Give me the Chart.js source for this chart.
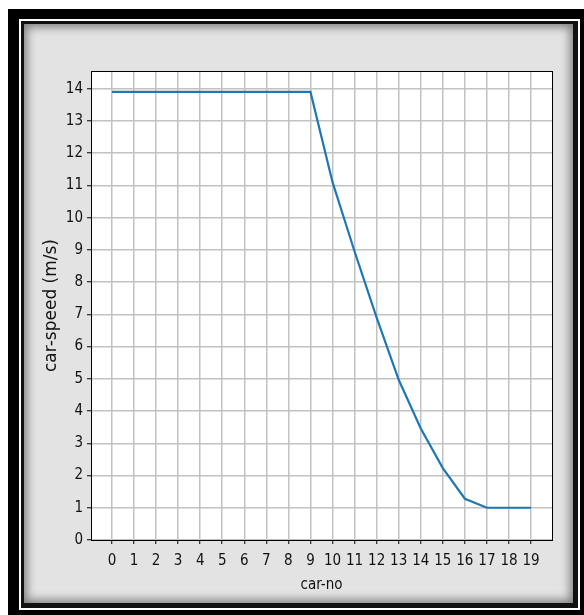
<!DOCTYPE html>
<html>
<head>
<meta charset="utf-8">
<script src="https://cdn.jsdelivr.net/npm/chart.js@4"></script>
<style>
  html, body { margin: 0; padding: 0; width: 584px; height: 615px; overflow: hidden; background: #fff; }
  .box { position: absolute; }
  #frameBlack { left: 8px; top: 9px; width: 580px; height: 610px; background: #000; }
  #frameWhite { left: 19px; top: 19px; width: 561px; height: 591px; background: #fff; }
  #frameDark { left: 21px; top: 21px; width: 557px; height: 587px; background: #111; }
  #frameGray { left: 24px; top: 24px; width: 549px; height: 579px; background: #e3e3e3;
               box-shadow: inset 0 0 10px 3px rgba(0,0,0,0.45); }
  #chartWrap { position: absolute; left: 0; top: 0; width: 584px; height: 615px; }
</style>
</head>
<body>
<div class="box" id="frameBlack"></div>
<div class="box" id="frameWhite"></div>
<div class="box" id="frameDark"></div>
<div class="box" id="frameGray"></div>
<div id="chartWrap"><canvas id="speedChart" width="584" height="615"></canvas></div>
<script>
// 数据
const carNo = [0, 1, 2, 3, 4, 5, 6, 7, 8, 9, 10, 11, 12, 13, 14, 15, 16, 17, 18, 19];
const carSpeed = [13.9, 13.9, 13.9, 13.9, 13.9, 13.9, 13.9, 13.9, 13.9, 13.9,
                  11.1, 8.95, 6.9, 4.97, 3.46, 2.23, 1.28, 1.0, 1.0, 1.0];
const xTitle = 'car-no';
const yTitle = 'car-speed (m/s)';

// 绘图区白底 + 四周黑框
const plotFrame = {
    id: 'plotFrame',
    beforeDraw(chart) {
        const { ctx, chartArea: a } = chart;
        ctx.save();
        ctx.fillStyle = '#fff';
        ctx.fillRect(a.left, a.top, a.right - a.left, a.bottom - a.top);
        ctx.restore();
    },
    afterDraw(chart) {
        const { ctx, chartArea: a } = chart;
        ctx.save();
        ctx.strokeStyle = '#000';
        ctx.lineWidth = 1;
        ctx.strokeRect(Math.round(a.left) + 0.5, Math.round(a.top) + 0.5,
                       Math.round(a.right - a.left), Math.round(a.bottom - a.top));
        ctx.restore();
    }
};

const tickFont = { family: "'DejaVu Sans Condensed', 'DejaVu Sans', sans-serif", size: 15 };

new Chart(document.getElementById('speedChart').getContext('2d'), {
    type: 'line',
    data: {
        datasets: [{
            data: carNo.map((c, i) => ({ x: c, y: carSpeed[i] })),
            borderColor: '#1f77b4',
            borderWidth: 2.2,
            pointRadius: 0,
            tension: 0,
            fill: false
        }]
    },
    options: {
        responsive: false,
        animation: false,
        layout: { padding: { left: 41, top: 71, right: 32, bottom: 21 } },
        plugins: { legend: { display: false }, tooltip: { enabled: false } },
        scales: {
            x: {
                type: 'linear',
                min: -0.95,
                max: 19.95,
                afterFit: axis => { axis.height = 54; },
                ticks: { stepSize: 1, includeBounds: false, color: '#111', font: tickFont, padding: 8, maxRotation: 0, autoSkip: false },
                grid: { color: '#c2c2c2', lineWidth: 1.5, tickColor: '#000', tickLength: 4, tickWidth: 1 },
                border: { display: false },
                title: { display: true, text: xTitle, color: '#111', font: tickFont, padding: 0 }
            },
            y: {
                type: 'linear',
                min: 0,
                max: 14.55,
                afterFit: axis => { axis.width = 50; },
                ticks: { stepSize: 1, includeBounds: false, color: '#111', font: tickFont, padding: 4, autoSkip: false },
                grid: { color: '#c2c2c2', lineWidth: 1.5, tickColor: '#000', tickLength: 4, tickWidth: 1 },
                border: { display: false },
                title: { display: true, text: yTitle, color: '#111', font: { family: "'DejaVu Sans', sans-serif", size: 17 }, padding: 0 }
            }
        }
    },
    plugins: [plotFrame]
});
</script>
</body>
</html>
